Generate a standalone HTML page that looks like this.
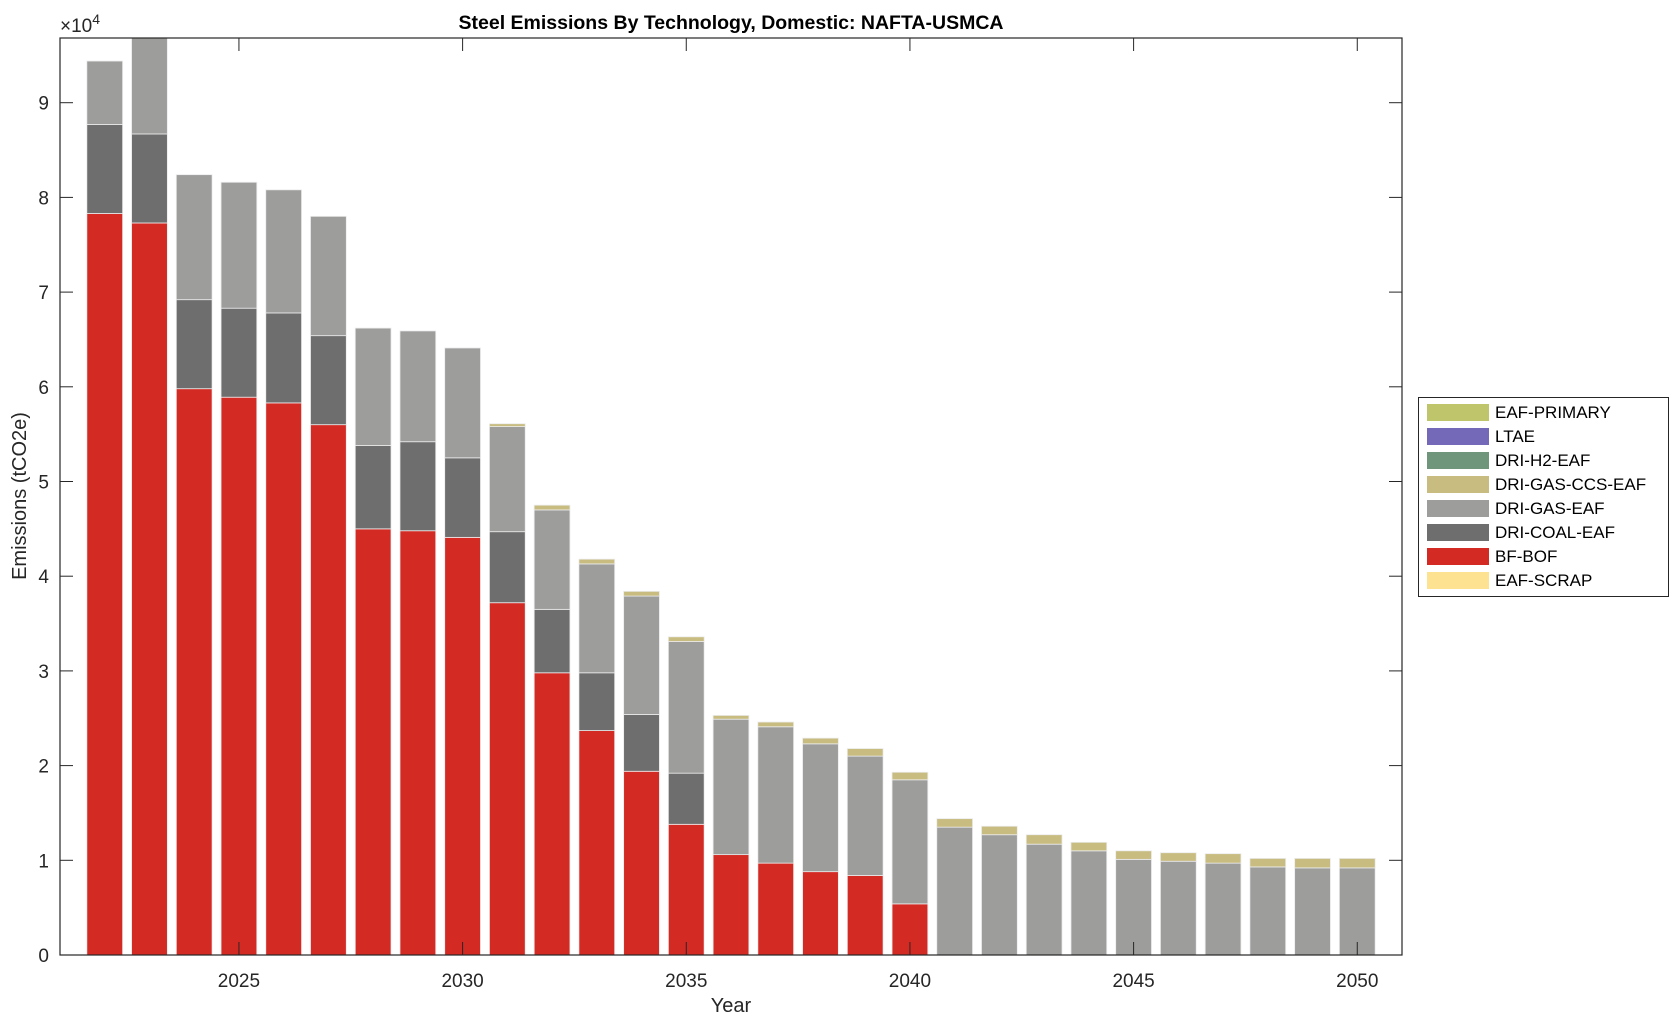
<!DOCTYPE html>
<html><head><meta charset="utf-8"><style>
html,body{margin:0;padding:0;background:#fff;}
svg{display:block;font-family:"Liberation Sans",Arial,sans-serif;}
</style></head><body>
<svg id="s" width="1679" height="1023" xmlns="http://www.w3.org/2000/svg"></svg>
<script>
const S=document.getElementById('s');
let h='';
const L=60,R=1402,T=38,B=955;
const X=y=>L+(y-2021)*(R-L)/30;
const Y=v=>B-v*94.7;
const C={bf:'#d42a24',coal:'#6e6e6e',gas:'#9d9d9c',ccs:'#c8bc80'};
const d=[
[7.83,8.77,9.44,0],[7.73,8.67,9.8,0],[5.98,6.92,8.24,0],[5.89,6.83,8.16,0],[5.83,6.78,8.08,0],[5.60,6.54,7.80,0],
[4.50,5.38,6.62,0],[4.48,5.42,6.59,0],[4.41,5.25,6.41,0],[3.72,4.47,5.58,5.61],[2.98,3.65,4.70,4.75],[2.37,2.98,4.13,4.18],
[1.94,2.54,3.79,3.84],[1.38,1.92,3.31,3.36],[1.06,1.06,2.49,2.53],[0.97,0.97,2.41,2.46],[0.88,0.88,2.23,2.29],[0.84,0.84,2.10,2.18],
[0.54,0.54,1.85,1.93],[0,0,1.35,1.44],[0,0,1.27,1.36],[0,0,1.17,1.27],[0,0,1.10,1.19],[0,0,1.01,1.10],[0,0,0.99,1.08],
[0,0,0.97,1.07],[0,0,0.93,1.02],[0,0,0.92,1.02],[0,0,0.92,1.02]];
h+='<defs><clipPath id="c"><rect x="'+L+'" y="'+T+'" width="'+(R-L)+'" height="'+(B-T)+'"/></clipPath></defs><g clip-path="url(#c)">';
d.forEach((r,i)=>{const yr=2022+i,x=X(yr)-17.9,w=35.8;let prev=0;
 const keys=['bf','coal','gas','ccs'];
 r.forEach((v,k)=>{if(v>prev+0.001){h+=`<rect x="${x}" y="${Y(v)}" width="${w}" height="${Y(prev)-Y(v)}" fill="${C[keys[k]]}" stroke="#ececec" stroke-width="0.8"/>`;prev=v;}});
});
h+='</g>';
h+=`<rect x="${L}" y="${T}" width="${R-L}" height="${B-T}" fill="none" stroke="#262626" stroke-width="1.2"/>`;
for(let v=0;v<=9;v++){const y=Y(v);h+=`<line x1="${L}" y1="${y}" x2="${L+13}" y2="${y}" stroke="#262626"/><line x1="${R-13}" y1="${y}" x2="${R}" y2="${y}" stroke="#262626"/><text x="${L-11}" y="${y+7}" font-size="19" text-anchor="end" fill="#262626">${v}</text>`;}
for(let yr=2025;yr<=2050;yr+=5){const x=X(yr);h+=`<line x1="${x}" y1="${B}" x2="${x}" y2="${B-13}" stroke="#262626"/><line x1="${x}" y1="${T}" x2="${x}" y2="${T+13}" stroke="#262626"/><text x="${x}" y="${B+32}" font-size="19" text-anchor="middle" fill="#262626">${yr}</text>`;}
h+=`<text x="60" y="32" font-size="19" fill="#262626">×10<tspan font-size="14" dy="-8">4</tspan></text>`;
h+=`<text x="731" y="29" font-size="19.5" font-weight="bold" text-anchor="middle" fill="#000">Steel Emissions By Technology, Domestic: NAFTA-USMCA</text>`;
h+=`<text x="731" y="1012" font-size="20" text-anchor="middle" fill="#262626">Year</text>`;
h+=`<text transform="translate(26,496) rotate(-90)" font-size="20" text-anchor="middle" fill="#262626">Emissions (tCO2e)</text>`;
h+=`<rect x="1418.5" y="397.5" width="250" height="199" fill="#fff" stroke="#262626" stroke-width="1"/>`;
const lg=[['EAF-PRIMARY','#bfc56b'],['LTAE','#7469b8'],['DRI-H2-EAF','#6f967a'],['DRI-GAS-CCS-EAF','#c8bc80'],['DRI-GAS-EAF','#9d9d9c'],['DRI-COAL-EAF','#6e6e6e'],['BF-BOF','#d42a24'],['EAF-SCRAP','#fde291']];
lg.forEach((e,i)=>{const cy=412+i*24;h+=`<rect x="1427" y="${cy-8}" width="62" height="17" fill="${e[1]}"/><text x="1495" y="${cy+6}" font-size="17" fill="#000">${e[0]}</text>`;});
S.innerHTML=h;
</script>
</body></html>
